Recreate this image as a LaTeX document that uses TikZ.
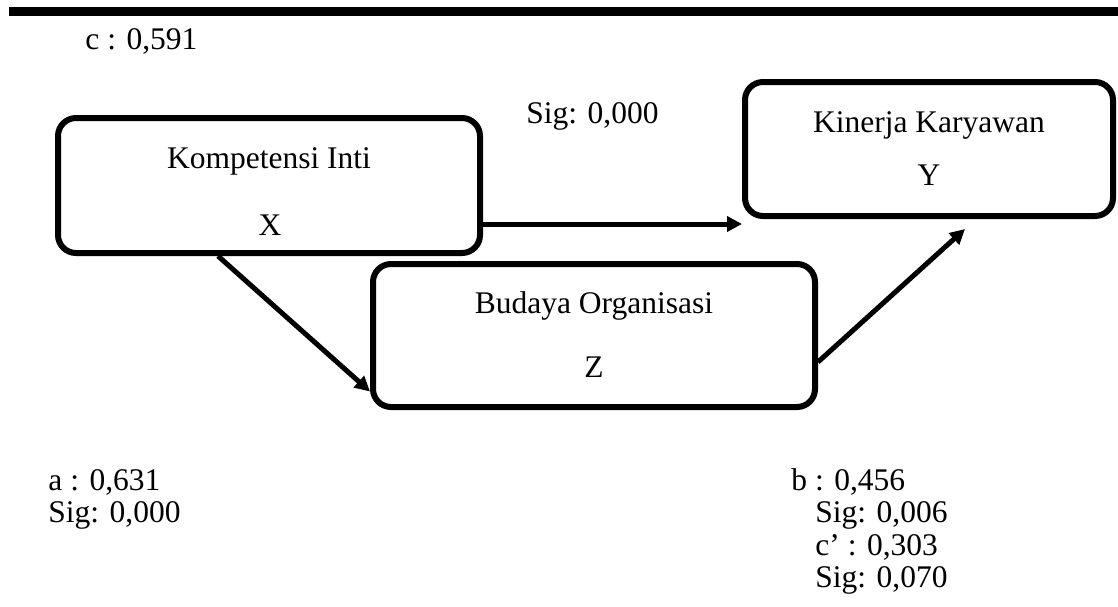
\documentclass[tikz,border=0pt]{standalone}
\usepackage{fontspec}
\setmainfont{Liberation Serif}
\usetikzlibrary{arrows.meta}
\tikzset{every picture/.style={x=0.5pt,y=-0.5pt},
  box/.style={draw=black,line width=3pt,rounded corners=9pt,inner sep=0pt},
  lbl/.style={anchor=base,inner sep=0pt,font=\fontsize{15.75}{18}\selectfont},
  val/.style={anchor=base west,inner sep=0pt,font=\fontsize{15.75}{18}\selectfont},
  link/.style={line width=2.5pt,-{Triangle[length=7.5pt,width=7.5pt]}}}

\begin{document}
\begin{tikzpicture}
        \useasboundingbox (0,0) rectangle (1118,606);
        % rule at the top
        \fill (9,7) rectangle (1118,16);

        % Define the positions of the boxes
        \node[box,minimum width=211pt,minimum height=67.5pt] (kx) at (269,185.5) {};
        \node[box,minimum width=184pt,minimum height=67pt] (ky) at (929,149) {};
        \node[box,minimum width=221pt,minimum height=71.5pt] (kz) at (594,335.5) {};

        % Texts in the boxes
        \node[lbl] (kxname) at (269,168) {Kompetensi Inti};
        \node[lbl] (kxsym) at (270,235) {X};
        \node[lbl] (kyname) at (929,132) {Kinerja Karyawan};
        \node[lbl] (kysym) at (929,185) {Y};
        \node[lbl] (kzname) at (594,313) {Budaya Organisasi};
        \node[lbl] (kzsym) at (594,377) {Z};

        % Coefficients
        \node[val] (vc) at (85,49) {c : 0,591};
        \node[val] (vcsig) at (526,123) {Sig: 0,000};
        \node[val] (va) at (48,490) {a : 0,631};
        \node[val] (vasig) at (48,522.5) {Sig: 0,000};
        \node[val] (vb) at (791,490) {b : 0,456};
        \node[val] (vbsig) at (815,522.5) {Sig: 0,006};
        \node[val] (vcp) at (815,555) {c’ : 0,303};
        \node[val] (vcpsig) at (815,587.5) {Sig: 0,070};

        % Draw the edges
        \draw[link] ([yshift=-19.25pt]kx.east) -- ([yshift=-19.25pt]kx.east -| ky.west);
        \draw[link] ([xshift=-25.5pt]kx.south) -- ([yshift=-28pt]kz.west);
        \draw[link] ([yshift=-13.25pt]kz.east) -- ([xshift=18pt,yshift=-5pt]ky.south);
    \end{tikzpicture}
\end{document}
